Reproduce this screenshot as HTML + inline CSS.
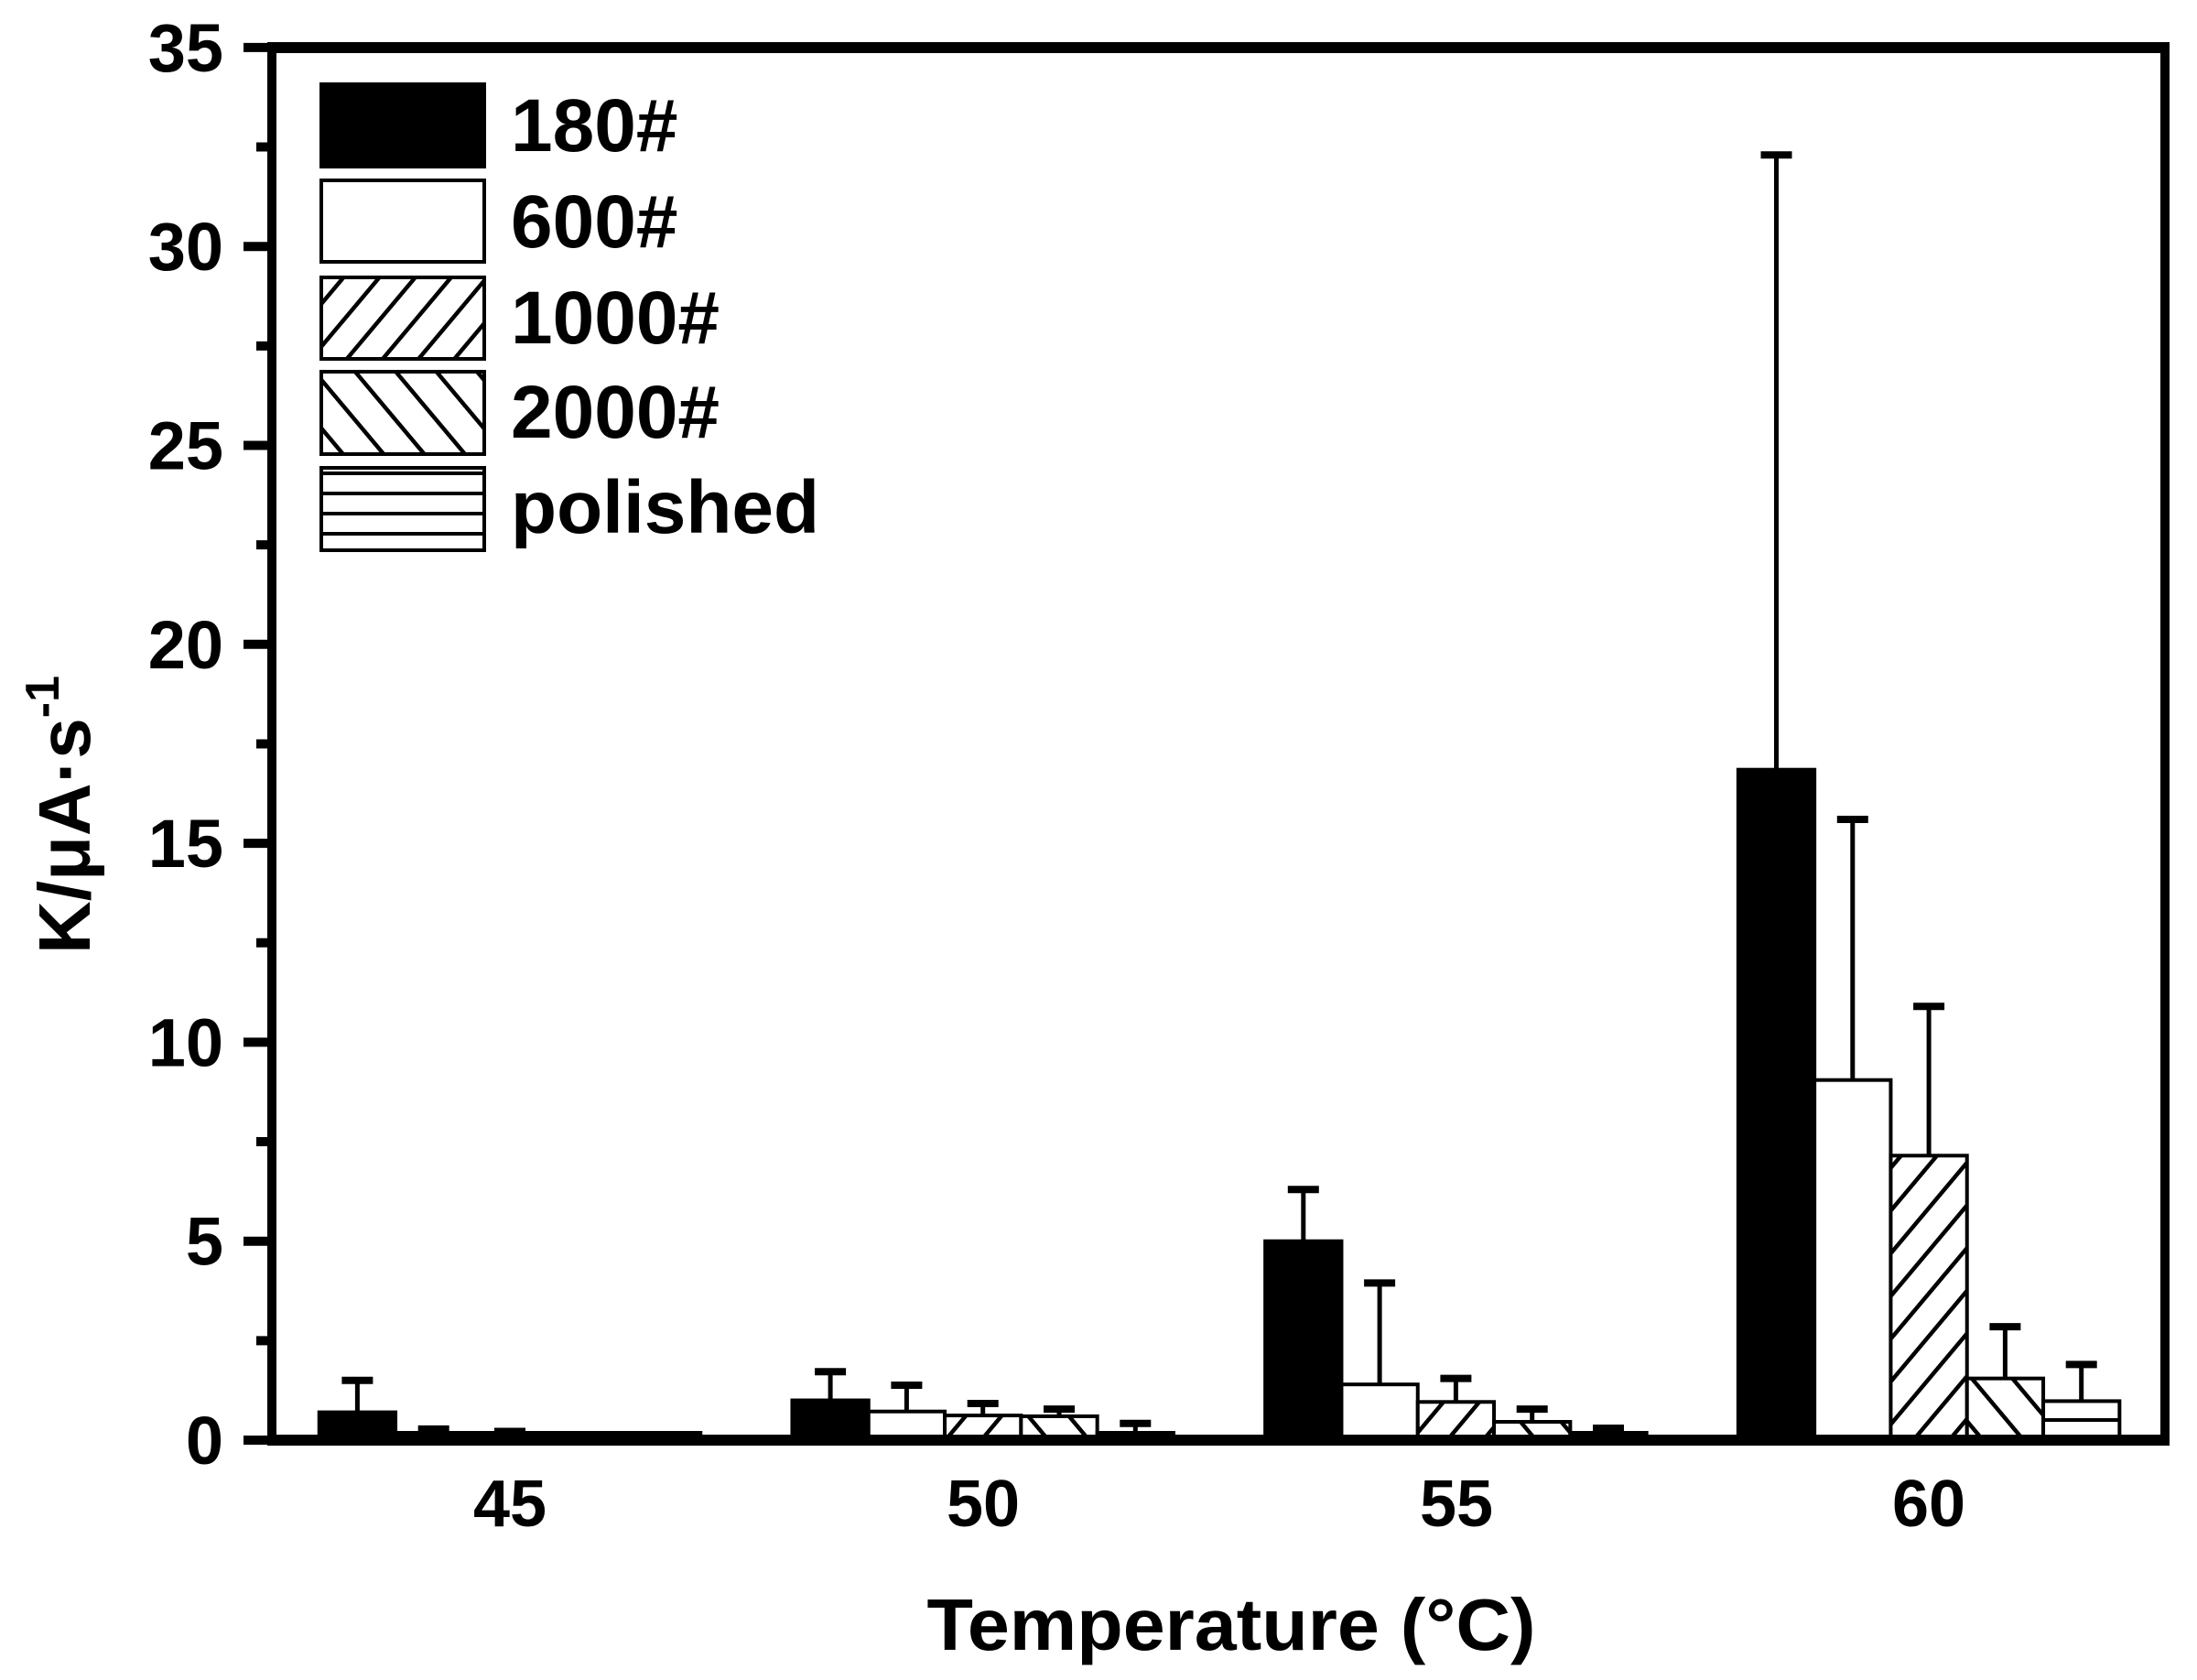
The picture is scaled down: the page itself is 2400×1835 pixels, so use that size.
<!DOCTYPE html>
<html><head><meta charset="utf-8"><style>
html,body{margin:0;padding:0;background:#fff;}
svg{display:block;}
text{font-family:"Liberation Sans",Arial,sans-serif;font-weight:bold;fill:#000;}
</style></head><body>
<svg width="2400" height="1835" viewBox="0 0 2400 1835" xmlns="http://www.w3.org/2000/svg">
<defs>
<pattern id="p1" patternUnits="userSpaceOnUse" width="30" height="30" patternTransform="rotate(40)">
<rect width="30" height="30" fill="#fff"/><line x1="0" y1="0" x2="0" y2="30" stroke="#000" stroke-width="9"/></pattern>
<pattern id="p2" patternUnits="userSpaceOnUse" width="34" height="34" patternTransform="rotate(-40)">
<rect width="34" height="34" fill="#fff"/><line x1="0" y1="0" x2="0" y2="34" stroke="#000" stroke-width="9"/></pattern>
<pattern id="p3" patternUnits="userSpaceOnUse" width="30" height="22">
<rect width="30" height="22" fill="#fff"/><line x1="0" y1="11" x2="30" y2="11" stroke="#000" stroke-width="4"/></pattern>
</defs>
<g id="bars" stroke="#000" stroke-width="4"></g>
<g stroke="#000" stroke-width="10" fill="none">
<line x1="297" y1="52" x2="2365" y2="52" stroke-width="12"/>
<line x1="2365" y1="46" x2="2365" y2="1578"/>
<line x1="297" y1="46" x2="297" y2="1578"/>
<line x1="292" y1="1573" x2="2370" y2="1573" stroke-width="12"/>
</g>
<g id="ticks" stroke="#000" stroke-width="10"></g>
<g font-size="74" text-anchor="end" id="ylab"></g>
<g font-size="72" text-anchor="middle">
<text x="557" y="1667">45</text><text x="1074" y="1667">50</text><text x="1591" y="1667">55</text><text x="2107" y="1667">60</text>
</g>
<text x="1345" y="1802" font-size="80" text-anchor="middle" textLength="665" lengthAdjust="spacingAndGlyphs">Temperature (°C)</text>
<text transform="translate(98,890) rotate(-90)" font-size="80" text-anchor="middle">K/μA·s<tspan font-size="52" dy="-34">-1</tspan></text>
<g stroke="#000" stroke-width="4">
<rect x="351" y="92" width="178" height="90" fill="#000"/>
<rect x="351" y="197" width="178" height="89" fill="#fff"/>
<rect x="351" y="303" width="178" height="89" fill="url(#p1)"/>
<rect x="351" y="406" width="178" height="90" fill="url(#p2)"/>
<rect x="351" y="511" width="178" height="90" fill="url(#p3)"/>
</g>
<g font-size="82">
<text x="558" y="165">180#</text><text x="558" y="270">600#</text><text x="558" y="375">1000#</text><text x="558" y="478">2000#</text><text x="558" y="582">polished</text>
</g>
</svg>
<script>
(function(){
var ns="http://www.w3.org/2000/svg";
function Y(v){return 1573-43.46*v;}
var data=[
[[0.7,1.5],[0.12,0.28],[0.1,0.22],[0.03,0.05],[0.03,0.09]],
[[1.0,1.72],[0.72,1.38],[0.62,0.92],[0.6,0.78],[0.02,0.42]],
[[5.0,6.3],[1.4,3.95],[0.96,1.55],[0.46,0.78],[0.05,0.3]],
[[16.85,32.3],[9.05,15.6],[7.15,10.9],[1.55,2.85],[0.98,1.9]]];
var fills=["#000","#fff","url(#p1)","url(#p2)","url(#p3)"];
var g=document.getElementById("bars");
var bw=83.3;
for(var i=0;i<4;i++){var c=557+516.7*i;for(var j=0;j<5;j++){
var x=c-2.5*bw+j*bw,v=data[i][j][0],e=data[i][j][1];
var cx=x+bw/2;
var l=document.createElementNS(ns,"line");l.setAttribute("x1",cx);l.setAttribute("x2",cx);l.setAttribute("y1",Y(v));l.setAttribute("y2",Y(e));l.setAttribute("stroke-width","5");g.appendChild(l);
var cp=document.createElementNS(ns,"line");cp.setAttribute("x1",cx-17);cp.setAttribute("x2",cx+17);cp.setAttribute("y1",Y(e));cp.setAttribute("y2",Y(e));cp.setAttribute("stroke-width","8");g.appendChild(cp);
var bt=Math.min(Y(v),1565);
var r=document.createElementNS(ns,"rect");r.setAttribute("x",x);r.setAttribute("y",bt);r.setAttribute("width",bw);r.setAttribute("height",1573-bt);r.setAttribute("fill",fills[j]);g.appendChild(r);
}}
var t=document.getElementById("ticks"),yl=document.getElementById("ylab");
for(var k=0;k<=14;k++){var v=k*2.5,y=1573-43.46*v;
var l=document.createElementNS(ns,"line");l.setAttribute("x1",k%2?280:266);l.setAttribute("x2",297);l.setAttribute("y1",y);l.setAttribute("y2",y);t.appendChild(l);
if(k%2==0){var tx=document.createElementNS(ns,"text");tx.setAttribute("x",244);tx.setAttribute("y",y+26);tx.textContent=v;yl.appendChild(tx);}}
})();
</script>
</body></html>
